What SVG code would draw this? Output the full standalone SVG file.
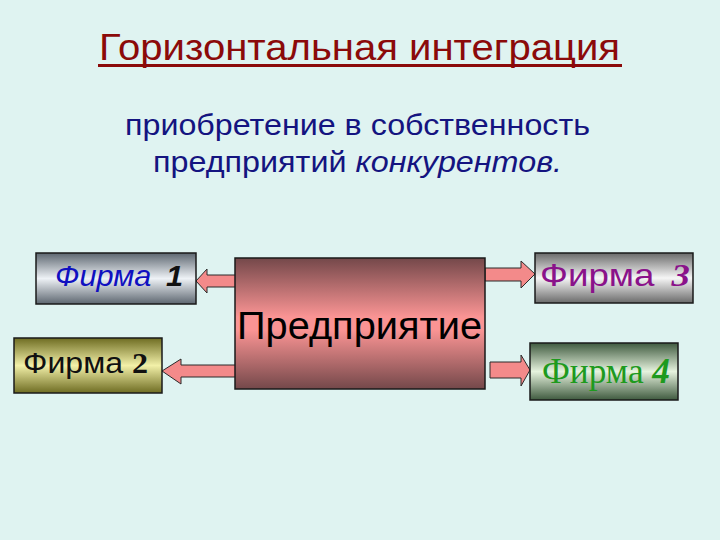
<svg xmlns="http://www.w3.org/2000/svg" width="720" height="540" viewBox="0 0 720 540">
<style>
.box{stroke:#1a1a1a;stroke-width:1.5}
.arr{fill:#f38a8a;stroke:#2a2a2a;stroke-width:1}
.sans{font-family:"Liberation Sans",Arial,sans-serif}
.serif{font-family:"Liberation Serif","Times New Roman",serif}
</style>
<defs>
<linearGradient id="gSilverBlue" x1="0" y1="0" x2="0" y2="1">
<stop offset="0" stop-color="#5d6670"/><stop offset="0.5" stop-color="#eef2f6"/><stop offset="1" stop-color="#5d6670"/>
</linearGradient>
<linearGradient id="gSilver" x1="0" y1="0" x2="0" y2="1">
<stop offset="0" stop-color="#6a6a6a"/><stop offset="0.5" stop-color="#f6f6f6"/><stop offset="1" stop-color="#6a6a6a"/>
</linearGradient>
<linearGradient id="gOlive" x1="0" y1="0" x2="0" y2="1">
<stop offset="0" stop-color="#6e6c22"/><stop offset="0.5" stop-color="#f2f0a8"/><stop offset="1" stop-color="#6e6c22"/>
</linearGradient>
<linearGradient id="gGreen" x1="0" y1="0" x2="0" y2="1">
<stop offset="0" stop-color="#3f5a3f"/><stop offset="0.5" stop-color="#e6f3de"/><stop offset="1" stop-color="#3f5a3f"/>
</linearGradient>
<linearGradient id="gPink" x1="0" y1="0" x2="0" y2="1">
<stop offset="0" stop-color="#74484a"/><stop offset="0.45" stop-color="#fa9494"/><stop offset="0.55" stop-color="#fa9494"/><stop offset="1" stop-color="#74484a"/>
</linearGradient>
</defs>
<rect width="720" height="540" fill="#dff3f1"/>
<g id="title">
<text x="99" y="60" class="sans" font-size="37" fill="#8b0a0a" textLength="521" lengthAdjust="spacingAndGlyphs">Горизонтальная интеграция</text>
<rect x="98" y="64" width="524" height="3" fill="#8b0a0a"/>
</g>
<g id="subtitle" class="sans" font-size="29" fill="#141480">
<text x="125" y="135" textLength="465" lengthAdjust="spacingAndGlyphs">приобретение в собственность</text>
<text x="153" y="172" textLength="409" lengthAdjust="spacingAndGlyphs">предприятий <tspan font-style="italic">конкурентов.</tspan></text>
</g>
<g id="connectors">
<polygon class="arr" points="196,281 207,269 207,275 236,275 236,287 207,287 207,293"/>
<polygon class="arr" points="162,371 181,359 181,365 236,365 236,377 181,377 181,384"/>
<polygon class="arr" points="535,274 521,261 521,268 485,268 485,281 521,281 521,288"/>
<polygon class="arr" points="530,370 521,355 521,362 490,362 490,378 521,378 521,386"/>
</g>
<g id="enterprise">
<rect class="box" x="235" y="258" width="250" height="131" fill="url(#gPink)"/>
<text x="237" y="339" class="sans" font-size="38" fill="#000" textLength="245" lengthAdjust="spacingAndGlyphs">Предприятие</text>
</g>
<g id="firm1">
<rect class="box" x="36" y="253" width="160" height="51" fill="url(#gSilverBlue)"/>
<text x="55" y="286" class="sans" font-size="30" font-style="italic" fill="#1010c0" textLength="128" lengthAdjust="spacingAndGlyphs">Фирма <tspan fill="#111" font-weight="bold" dx="6">1</tspan></text>
</g>
<g id="firm2">
<rect class="box" x="14" y="338" width="148" height="55" fill="url(#gOlive)"/>
<text x="23" y="373" class="sans" font-size="30" fill="#111" textLength="125" lengthAdjust="spacingAndGlyphs">Фирма <tspan class="serif" font-weight="bold">2</tspan></text>
</g>
<g id="firm3">
<rect class="box" x="535" y="253" width="158" height="50" fill="url(#gSilver)"/>
<text x="540" y="286" class="sans" font-size="32" fill="#8a128a" textLength="150" lengthAdjust="spacingAndGlyphs">Фирма <tspan class="serif" font-weight="bold" font-style="italic" dx="6">3</tspan></text>
</g>
<g id="firm4">
<rect class="box" x="530" y="343" width="148" height="57" fill="url(#gGreen)"/>
<text x="542" y="383" class="serif" font-size="35" fill="#1e9a1e" textLength="128" lengthAdjust="spacingAndGlyphs">Фирма <tspan font-style="italic" font-weight="bold">4</tspan></text>
</g>
</svg>
